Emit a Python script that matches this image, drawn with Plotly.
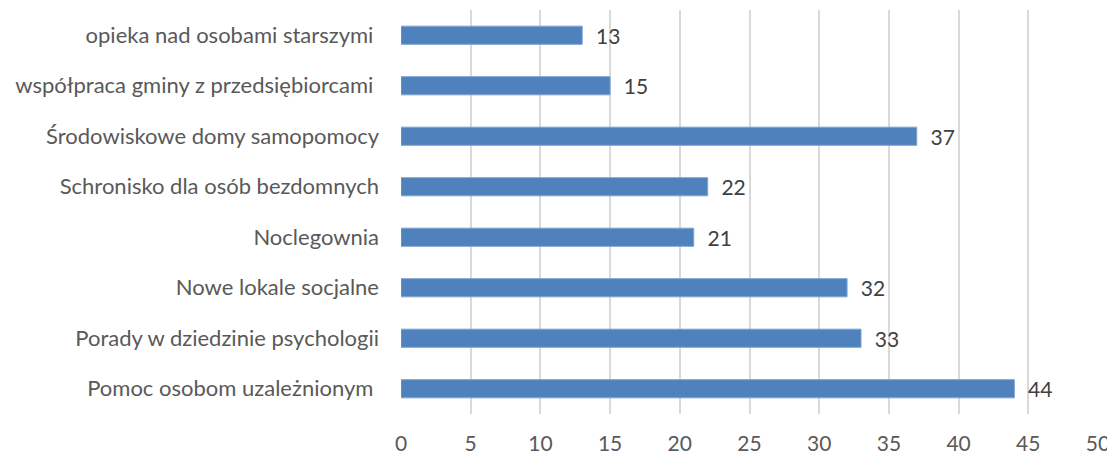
import plotly.graph_objects as go

# categories listed bottom to top (as plotted)
categories = [
    "Pomoc osobom uzależnionym ",
    "Porady w dziedzinie psychologii",
    "Nowe lokale socjalne",
    "Noclegownia",
    "Schronisko dla osób bezdomnych",
    "Środowiskowe domy samopomocy",
    "współpraca gminy z przedsiębiorcami ",
    "opieka nad osobami starszymi ",
]
values = [44, 33, 32, 21, 22, 37, 15, 13]
x_ticks = [0, 5, 10, 15, 20, 25, 30, 35, 40, 45, 50]

txt = "#595959"
font = "Lato, Carlito, Calibri, sans-serif"
fs = 22

fig = go.Figure(go.Bar(
    y=categories,
    x=values,
    orientation="h",
    marker=dict(color="#4F81BD", line=dict(color="#7FA4D3", width=1)),
    text=values,
    texttemplate="  %{x}",
    textposition="outside",
    constraintext="none",
    textfont=dict(color="#404040", size=fs - 1, family=font),
    cliponaxis=False,
))

# page body has an 8px margin, so shrink the figure and pull it back by that much
fig.update_layout(
    width=1107, height=448,
    margin=dict(l=393, r=17, t=2, b=42),
    paper_bgcolor="white", plot_bgcolor="white",
    bargap=0.64,
    showlegend=False,
    font=dict(family=font, size=fs, color=txt),
    xaxis=dict(range=[0, 50], tickvals=x_ticks, showgrid=True,
               gridcolor="#D9D9D9", gridwidth=1.5, zeroline=False,
               tickfont=dict(size=fs - 1, color=txt), ticks="",
               ticklabelstandoff=15, ticklabeloverflow="allow",
               automargin=False),
    yaxis=dict(showgrid=False, ticks="", tickfont=dict(size=fs, color=txt),
               ticklabelstandoff=21, categoryorder="array",
               categoryarray=categories, automargin=False),
)

fig.write_html("out.html")
